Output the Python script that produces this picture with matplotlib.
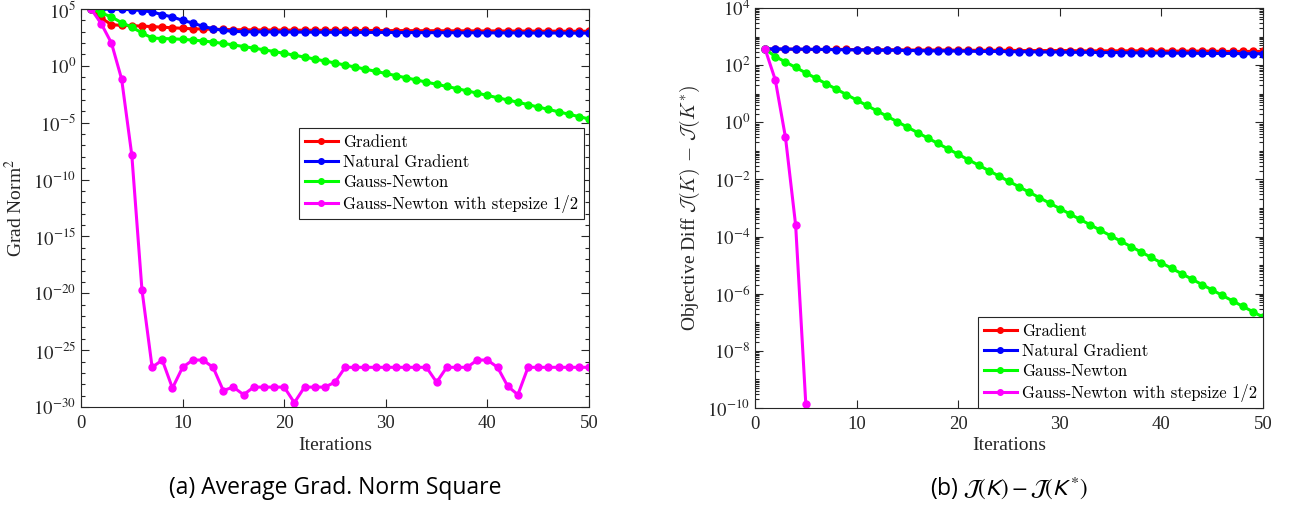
import matplotlib
matplotlib.use("Agg")
import matplotlib.pyplot as plt
import matplotlib.ticker as mticker
import numpy as np

plt.rcParams['font.family'] = ['Liberation Serif', 'DejaVu Serif']
plt.rcParams['mathtext.fontset'] = 'stix'

iters = np.arange(1, 51)

# (a) grad norm square, log10 of the values
grad_a = [5.0, 4.2, 3.62, 3.56, 3.53, 3.5, 3.45, 3.4, 3.35, 3.3, 3.26, 3.24, 3.22, 3.2, 3.18,
          3.17, 3.16, 3.15, 3.15, 3.14, 3.14, 3.13, 3.13, 3.12, 3.12, 3.12, 3.11, 3.11, 3.11, 3.1,
          3.1, 3.1, 3.09, 3.09, 3.09, 3.08, 3.08, 3.08, 3.07, 3.07, 3.07, 3.06, 3.06, 3.06, 3.05,
          3.05, 3.05, 3.04, 3.04, 3.04]
natgrad_a = [5.0, 5.0, 4.97, 4.97, 4.94, 4.86, 4.74, 4.5, 4.3, 4.0, 3.77, 3.47, 3.27, 3.12, 3.03,
             3.0, 2.99, 2.99, 2.98, 2.98, 2.97, 2.97, 2.96, 2.96, 2.95, 2.95, 2.95, 2.94, 2.94, 2.94,
             2.93, 2.93, 2.93, 2.92, 2.92, 2.92, 2.91, 2.91, 2.91, 2.9, 2.9, 2.9, 2.9, 2.89, 2.89,
             2.89, 2.89, 2.88, 2.88, 2.88]
gn_a = [5.0, 4.65, 4.3, 3.8, 3.4, 2.9, 2.45, 2.4, 2.38, 2.33, 2.27, 2.19, 2.09, 1.97, 1.84,
        1.7, 1.56, 1.41, 1.26, 1.1, 0.94, 0.77, 0.6, 0.43, 0.25, 0.07, -0.11, -0.29, -0.48, -0.67,
        -0.86, -1.05, -1.24, -1.43, -1.62, -1.81, -2.0, -2.2, -2.4, -2.6, -2.8, -3.0, -3.2, -3.41, -3.62,
        -3.83, -4.04, -4.25, -4.46, -4.67]
gnhalf_a = [5.0, 3.7, 2.0, -1.17, -7.85, -19.7, -26.51, -25.87, -28.34, -26.51, -25.87, -25.87, -26.51, -28.55, -28.25,
            -28.92, -28.25, -28.25, -28.25, -28.25, -29.62, -28.25, -28.25, -28.25, -27.82, -26.51, -26.51, -26.51, -26.51, -26.51,
            -26.51, -26.51, -26.51, -26.51, -27.82, -26.51, -26.51, -26.51, -25.87, -25.87, -26.51, -28.17, -28.92, -26.51, -26.51,
            -26.51, -26.51, -26.51, -26.51, -26.51]

# (b) objective difference, log10
grad_b = [2.56, 2.56, 2.56, 2.56, 2.55, 2.55, 2.55, 2.55, 2.55, 2.54, 2.54, 2.54, 2.54, 2.54, 2.53,
          2.53, 2.53, 2.53, 2.53, 2.52, 2.52, 2.52, 2.52, 2.52, 2.52, 2.51, 2.51, 2.51, 2.51, 2.51,
          2.51, 2.5, 2.5, 2.5, 2.5, 2.5, 2.5, 2.5, 2.49, 2.49, 2.49, 2.49, 2.49, 2.49, 2.49,
          2.48, 2.48, 2.48, 2.48, 2.48]
natgrad_b = [2.57, 2.57, 2.56, 2.56, 2.56, 2.55, 2.55, 2.54, 2.54, 2.53, 2.53, 2.52, 2.52, 2.52, 2.51,
             2.51, 2.5, 2.5, 2.5, 2.49, 2.49, 2.48, 2.48, 2.48, 2.47, 2.47, 2.47, 2.46, 2.46, 2.46,
             2.45, 2.45, 2.45, 2.44, 2.44, 2.44, 2.43, 2.43, 2.43, 2.42, 2.42, 2.42, 2.42, 2.41, 2.41,
             2.41, 2.41, 2.4, 2.4, 2.4]
gn_b = [2.56, 2.30, 2.11, 1.92, 1.73, 1.54, 1.35, 1.16, 0.97, 0.78, 0.59, 0.40, 0.21, 0.02, -0.17,
        -0.36, -0.55, -0.74, -0.93, -1.12, -1.31, -1.50, -1.69, -1.88, -2.07, -2.26, -2.45, -2.64, -2.83, -3.02,
        -3.21, -3.40, -3.59, -3.78, -3.97, -4.16, -4.35, -4.54, -4.73, -4.92, -5.11, -5.30, -5.49, -5.68, -5.87,
        -6.06, -6.25, -6.44, -6.63, -6.82]
gnhalf_b = [2.56, 1.48, -0.53, -3.6, -9.86]

labels = ["Gradient", "Natural Gradient", "Gauss-Newton", "Gauss-Newton with stepsize 1/2"]
colors = ["#ff0000", "#0000ff", "#00ff00", "#ff00ff"]

fig = plt.figure(figsize=(12.89, 5.07), dpi=100)
ax1 = fig.add_axes([81 / 1289, 1 - 407 / 507, 508 / 1289, 398 / 507])
ax2 = fig.add_axes([755 / 1289, 1 - 408 / 507, 508 / 1289, 400 / 507])

dark = "#262626"


def draw(ax, series):
    for s, c, lab in zip(series, colors, labels):
        x = iters[:len(s)]
        ax.plot(x, 10.0 ** np.array(s), color=c, lw=2.2, marker='o', ms=5, label=lab)
    ax.set_yscale('log')
    ax.set_xlim(0, 50)
    ax.set_xticks([0, 10, 20, 30, 40, 50])
    ax.tick_params(which='both', direction='in', top=True, right=True, colors=dark,
                   labelsize=13.5, width=0.8)
    ax.tick_params(axis='x', pad=6)
    ax.tick_params(which='major', length=6)
    ax.tick_params(which='minor', length=3)
    for sp in ax.spines.values():
        sp.set_color(dark)
        sp.set_linewidth(0.8)
    ax.set_xlabel("Iterations", fontsize=14, color=dark, labelpad=3)


def legend(ax, **kw):
    leg = ax.legend(prop={'family': 'cmr10', 'size': 12}, fancybox=False, edgecolor=dark,
                    framealpha=1, handlelength=2.0, borderpad=0.35, labelspacing=0.3,
                    handletextpad=0.3, markerscale=0.8, borderaxespad=0.0, **kw)
    leg.get_frame().set_linewidth(0.8)
    return leg


draw(ax1, [grad_a, natgrad_a, gn_a, gnhalf_a])
ax1.set_ylim(1e-30, 1e5)
ax1.yaxis.set_major_locator(mticker.FixedLocator([10.0 ** k for k in range(-30, 6, 5)]))
ax1.yaxis.set_minor_locator(mticker.FixedLocator([10.0 ** k for k in range(-30, 6)]))
ax1.yaxis.set_minor_formatter(mticker.NullFormatter())
ax1.yaxis.set_major_formatter(mticker.FuncFormatter(lambda v, p: r"$10^{%d}$" % round(np.log10(v))))
ax1.set_ylabel(r"Grad Norm$^2$", fontsize=14, color=dark, labelpad=5)
legend(ax1, loc='upper right', bbox_to_anchor=(0.99, 0.70))

draw(ax2, [grad_b, natgrad_b, gn_b, gnhalf_b])
ax2.set_ylim(1e-10, 1e4)
ax2.yaxis.set_major_locator(mticker.FixedLocator([10.0 ** k for k in range(-10, 5, 2)]))
ax2.yaxis.set_minor_locator(mticker.LogLocator(base=10, subs=np.arange(1, 10), numticks=50))
ax2.yaxis.set_minor_formatter(mticker.NullFormatter())
ax2.yaxis.set_major_formatter(mticker.FuncFormatter(lambda v, p: r"$10^{%d}$" % round(np.log10(v))))
ax2.set_ylabel(r"Objective Diff $\mathcal{J}(K)\, -\, \mathcal{J}(K^{*})$", fontsize=14, color=dark,
               labelpad=4, math_fontfamily='cm')
legend(ax2, loc='lower right', bbox_to_anchor=(1.0, 0.0))

fig.text(335 / 1289, 1 - 488 / 507, "(a) Average Grad. Norm Square", ha='center', va='center',
         fontsize=16.5, family='Open Sans', color='black')
fig.text(1009 / 1289, 1 - 488 / 507, r"(b) $\mathcal{J}(K) - \mathcal{J}(K^{*})$", ha='center', va='center',
         fontsize=16.5, family='Open Sans', color='black', math_fontfamily='stixsans')

fig.savefig('out.png', dpi=100)
